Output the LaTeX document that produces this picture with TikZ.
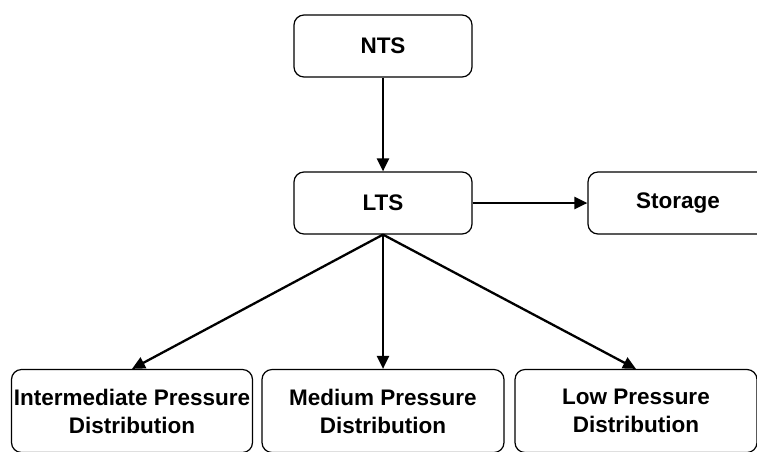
\documentclass[tikz,border=0pt]{standalone}
\usepackage{fontspec}
\setmainfont{Liberation Sans}
\usetikzlibrary{arrows.meta}
\begin{document}
\begin{tikzpicture}[x=1pt,y=-1pt,
  box/.style={draw=black,line width=1.2pt,rounded corners=10pt,align=center,
    font=\fontsize{22.5}{28}\selectfont\bfseries,inner sep=0pt},
  conn/.style={line width=2.3pt,-{Triangle[length=13pt,width=12pt]}}]
\useasboundingbox (0,0) rectangle (757,451);
\clip (0,0) rectangle (757,451);
\fill[white] (0,0) rectangle (757,451);
\node[box,minimum width=178pt,minimum height=62pt] (nts) at (383,46) {NTS};
\node[box,minimum width=178pt,minimum height=62pt] (lts) at (383,203) {LTS};
\node[box,minimum width=180pt,minimum height=62pt] (sto) at (678,203) {Storage};
\node[box,minimum width=241pt,minimum height=83pt] (ipd) at (132,411) {Intermediate Pressure\\Distribution};
\node[box,minimum width=242pt,minimum height=83pt] (mpd) at (383,411) {Medium Pressure\\Distribution};
\node[box,minimum width=242pt,minimum height=83pt] (lpd) at (636,411) {Low Pressure\\Distribution};
\draw[conn] (nts.south) -- (lts.north);
\draw[conn] (lts.east) -- (sto.west);
\draw[conn] (lts.south) -- (ipd.north);
\draw[conn] (lts.south) -- (mpd.north);
\draw[conn] (lts.south) -- (lpd.north);
\end{tikzpicture}
\end{document}
